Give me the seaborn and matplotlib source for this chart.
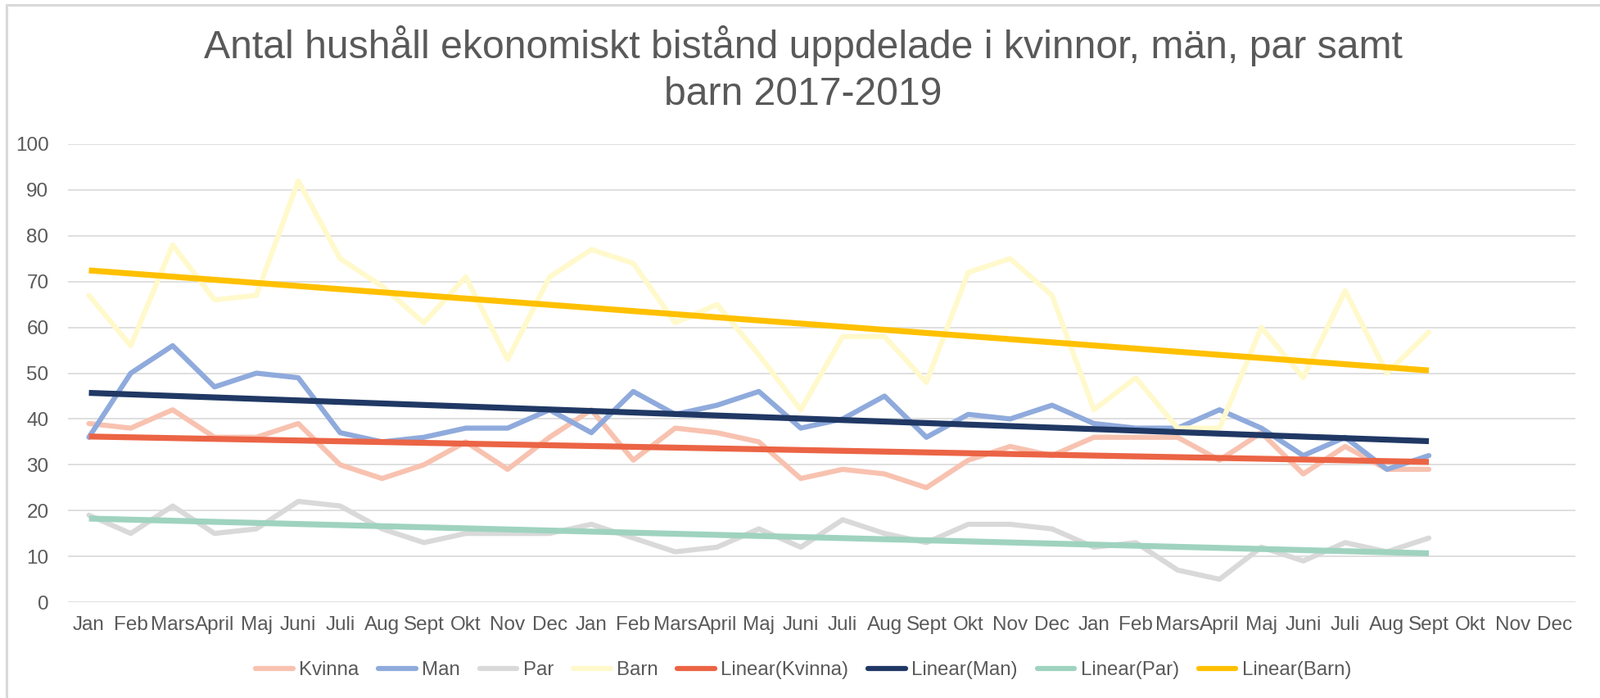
import numpy as np
import pandas as pd
import matplotlib
matplotlib.use("Agg")
import matplotlib.pyplot as plt
from matplotlib.lines import Line2D
from matplotlib.patches import Rectangle
import seaborn as sns

# ---- data -------------------------------------------------------------
months = ["Jan", "Feb", "Mars", "April", "Maj", "Juni", "Juli", "Aug",
          "Sept", "Okt", "Nov", "Dec"]
tick_labels = months * 3          # 2017, 2018, 2019

kvinna = [39, 38, 42, 36, 36, 39, 30, 27, 30, 35, 29, 36,
          42, 31, 38, 37, 35, 27, 29, 28, 25, 31, 34, 32,
          36, 36, 36, 31, 37, 28, 34, 29, 29]
man = [36, 50, 56, 47, 50, 49, 37, 35, 36, 38, 38, 42,
       37, 46, 41, 43, 46, 38, 40, 45, 36, 41, 40, 43,
       39, 38, 38, 42, 38, 32, 36, 29, 32]
par = [19, 15, 21, 15, 16, 22, 21, 16, 13, 15, 15, 15,
       17, 14, 11, 12, 16, 12, 18, 15, 13, 17, 17, 16,
       12, 13, 7, 5, 12, 9, 13, 11, 14]
barn = [67, 56, 78, 66, 67, 92, 75, 69, 61, 71, 53, 71,
        77, 74, 61, 65, 54, 42, 58, 58, 48, 72, 75, 67,
        42, 49, 38, 38, 60, 49, 68, 50, 59]

series_names = ["Kvinna", "Man", "Par", "Barn"]
series_values = [kvinna, man, par, barn]
line_colors = ["#F8C2B0", "#8FAADC", "#D9D9D9", "#FFF9CC"]
trend_colors = ["#EB6445", "#203864", "#9FD3BF", "#FFC000"]

title = "Antal hushåll ekonomiskt bistånd uppdelade i kvinnor, män, par samt\nbarn 2017-2019"

# ---- figure -----------------------------------------------------------
sns.set_theme(style="white")
plt.rcParams["font.family"] = ["Liberation Sans", "DejaVu Sans"]

W, H, DPI = 1954, 852, 100
fig = plt.figure(figsize=(W / DPI, H / DPI), dpi=DPI)
fig.patch.set_facecolor("white")

left, right = 83 / W, 1924 / W
bottom, top = 1 - 735 / H, 1 - 176 / H
ax = fig.add_axes([left, bottom, right - left, top - bottom])

text_col = "#595959"
grid_col = "#D9D9D9"

frames = []
for name, vals in zip(series_names, series_values):
    frames.append(pd.DataFrame({"idx": np.arange(len(vals)), "value": vals,
                                "serie": name}))
df = pd.concat(frames, ignore_index=True)

# data lines
sns.lineplot(data=df, x="idx", y="value", hue="serie",
             hue_order=series_names, palette=line_colors,
             linewidth=4.5, ax=ax, legend=False, zorder=3)

# linear trend lines (least squares, like Excel)
for name, col in zip(series_names, trend_colors):
    sub = df[df["serie"] == name]
    sns.regplot(data=sub, x="idx", y="value", scatter=False, ci=None,
                truncate=True, ax=ax,
                line_kws={"color": col, "linewidth": 5.2, "zorder": 4,
                          "solid_capstyle": "butt"})

ax.set_xlim(-0.5, len(tick_labels) - 0.5)
ax.set_ylim(0, 100)
ax.set_yticks(np.arange(0, 101, 10))
ax.set_xticks(np.arange(len(tick_labels)))
ax.set_xticklabels(tick_labels)
ax.set_xlabel("")
ax.set_ylabel("")
ax.grid(axis="y", color=grid_col, linewidth=1.2, zorder=0)
ax.grid(axis="x", visible=False)
for s in ax.spines.values():
    s.set_visible(False)
ax.tick_params(axis="both", length=0, labelsize=17.5, colors=text_col)
ax.tick_params(axis="x", pad=12)
ax.tick_params(axis="y", pad=17)

fig.text(0.502, 1 - 128 / H, title, ha="center", va="baseline",
         fontsize=34.7, color=text_col, linespacing=1.33)

# legend
handles = [Line2D([0], [0], color=c, linewidth=4.5) for c in line_colors] + \
          [Line2D([0], [0], color=c, linewidth=4.5) for c in trend_colors]
labels = series_names + [f"Linear({s})" for s in series_names]
fig.legend(handles, labels, loc="center", bbox_to_anchor=(0.502, 1 - 818 / H),
           ncol=8, frameon=False, fontsize=17.3, labelcolor=text_col,
           handlelength=1.9, handletextpad=0.3, columnspacing=1.0)

# chart-area border (left & top visible)
fig.add_artist(Rectangle((8 / W, -0.1), 1.2, 1.1 - 6 / H,
                         transform=fig.transFigure, fill=False,
                         edgecolor=grid_col, linewidth=2.2))

fig.savefig("out.png", dpi=DPI, facecolor="white")
